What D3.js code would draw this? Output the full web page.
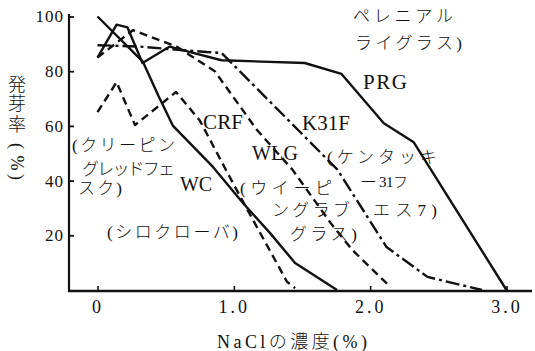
<!DOCTYPE html>
<html><head><meta charset="utf-8">
<script src="https://cdn.jsdelivr.net/npm/d3@7"></script>
<style>body{margin:0;background:#fff}</style>
</head><body>
<svg id="c" width="535" height="351"></svg>
<script>
// ---- data ----
const xTicks = [0, 1, 2, 3];
const xTickLabels = ["0", "1.0", "2.0", "3.0"];
const yTicks = [20, 40, 60, 80, 100];
const yTickLabels = ["20", "40", "60", "80", "100"];

const xPRG = [0, 0.14, 0.22, 0.33, 0.53, 0.68, 0.91, 1.52, 1.79, 2.10, 2.32, 3.00];
const yPRG = [85, 97, 96, 83, 89, 87, 84, 83, 79, 61, 54, 0];

const xK31F = [0, 0.31, 0.55, 0.80, 0.91, 1.76, 2.12, 2.42, 2.82];
const yK31F = [89.5, 89, 88, 87, 86.7, 44, 15.7, 4.8, 0];

const xWLG = [0, 0.26, 0.58, 0.86, 1.17, 1.43, 1.71, 1.87, 2.15];
const yWLG = [85, 95, 89, 80, 58.5, 44, 24.5, 14.6, 1];

const xCRF = [0, 0.14, 0.275, 0.576, 0.75, 0.97, 1.10, 1.39, 1.45];
const yCRF = [65, 76, 60.3, 72.4, 62, 41.3, 29.3, 3, 0.7];

const xWC = [0, 0.334, 0.444, 0.554, 0.847, 1.067, 1.266, 1.449, 1.757];
const yWC = [100, 83.4, 71.3, 60, 45, 31.8, 20.8, 9.9, 0];

const seriesNames = ["PRG", "K31F", "WLG", "CRF", "WC"];
const seriesX = [xPRG, xK31F, xWLG, xCRF, xWC];
const seriesY = [yPRG, yK31F, yWLG, yCRF, yWC];
const seriesDash = [null, "14,4,3,4", "8,5", "8,5", null];

// ---- chart ----
const svg = d3.select("#c");
const ink = "#111";
const x = d3.scaleLinear().domain([0, 3]).range([97.5, 506.5]);
const y = d3.scaleLinear().domain([0, 100]).range([290, 16.5]);
const latin = "'Liberation Serif', 'Noto Sans CJK JP', serif";
const cjk = "'Liberation Serif', 'Noto Sans CJK JP', sans-serif";

// axes lines
svg.append("line").attr("x1", 69).attr("x2", 69).attr("y1", 292).attr("y2", 14)
  .attr("stroke", ink).attr("stroke-width", 2.2);
svg.append("line").attr("x1", 68).attr("x2", 532).attr("y1", 291).attr("y2", 291)
  .attr("stroke", ink).attr("stroke-width", 2.6);

// y axis ticks
const gy = svg.append("g").attr("transform", "translate(69,0)")
  .call(d3.axisLeft(y).tickValues(yTicks).tickSize(-5).tickSizeOuter(0).tickPadding(5)
    .tickFormat((d, i) => yTickLabels[i]));
gy.select(".domain").remove();
gy.selectAll("line").attr("stroke", ink).attr("stroke-width", 1.8);
gy.selectAll("text").attr("font-family", latin).attr("font-size", 17)
  .attr("letter-spacing", 1).attr("fill", ink);

// x axis ticks
const gx = svg.append("g").attr("transform", "translate(0,291)")
  .call(d3.axisBottom(x).tickValues(xTicks).tickSize(-5).tickSizeOuter(0)
    .tickFormat((d, i) => xTickLabels[i]));
gx.select(".domain").remove();
gx.selectAll("line").attr("stroke", ink).attr("stroke-width", 1.6);
gx.selectAll("text").attr("font-family", latin).attr("font-size", 18)
  .attr("letter-spacing", 3).attr("y", 16).attr("dy", "0.35em").attr("fill", ink);

// series
const line = d3.line().x(d => x(d[0])).y(d => y(d[1]));
seriesNames.forEach((name, i) => {
  const pts = seriesX[i].map((v, j) => [v, seriesY[i][j]]);
  svg.append("path").datum(pts).attr("d", line)
    .attr("fill", "none").attr("stroke", ink).attr("stroke-width", 2.4)
    .attr("stroke-linejoin", "round")
    .attr("stroke-dasharray", seriesDash[i]);
});

// labels
const labels = [
  {t: "ペレニアル", x: 353, y: 16, w: 100, s: 17},
  {t: "ライグラス)", x: 355, y: 43, w: 107, s: 17},
  {t: "PRG", x: 363, y: 82, w: 44, s: 21},
  {t: "K31F", x: 302, y: 123, w: 48, s: 21},
  {t: "(ケンタッキ", x: 327, y: 157, w: 110, s: 17},
  {t: "ー", x: 360, y: 182, w: 15, s: 17},
  {t: "31フ", x: 379, y: 182, w: 29, s: 15},
  {t: "エス7)", x: 373, y: 210, w: 64, s: 17},
  {t: "CRF", x: 203, y: 122, w: 40, s: 21},
  {t: "(クリーピン", x: 72, y: 145, w: 103, s: 17},
  {t: "グレッドフェ", x: 82, y: 169, w: 93, s: 17},
  {t: "スク)", x: 78, y: 188, w: 44, s: 17},
  {t: "WC", x: 180, y: 184, w: 32, s: 20},
  {t: "(シロクローバ)", x: 107, y: 232, w: 131, s: 17},
  {t: "WLG", x: 252, y: 153, w: 46, s: 20},
  {t: "(ウイーピ", x: 240, y: 188, w: 92, s: 17},
  {t: "ングラブ", x: 272, y: 210, w: 78, s: 17},
  {t: "グラス)", x: 290, y: 234, w: 67, s: 17},
  {t: "NaClの濃度(%)", x: 217, y: 342, w: 150, s: 18}
];
svg.append("g").selectAll("text").data(labels).join("text")
  .attr("x", d => d.x).attr("y", d => d.y).attr("dy", "0.35em")
  .attr("textLength", d => d.w).attr("lengthAdjust", "spacing")
  .attr("font-family", cjk).attr("font-weight", 300)
  .attr("font-size", d => d.s).attr("fill", ink)
  .text(d => d.t);

// vertical y-axis title
const yTitle = [
  {c: "発", y: 85, r: 0}, {c: "芽", y: 104, r: 0}, {c: "率", y: 125, r: 0},
  {c: "(", y: 146, r: 90}, {c: "%", y: 163, r: 90}, {c: ")", y: 177, r: 90}
];
svg.append("g").selectAll("text").data(yTitle).join("text")
  .attr("transform", d => `translate(17,${d.y}) rotate(${d.r})`)
  .attr("text-anchor", "middle").attr("dy", "0.35em")
  .attr("font-family", cjk).attr("font-weight", 300)
  .attr("font-size", 18).attr("fill", ink)
  .text(d => d.c);
</script>
</body></html>
